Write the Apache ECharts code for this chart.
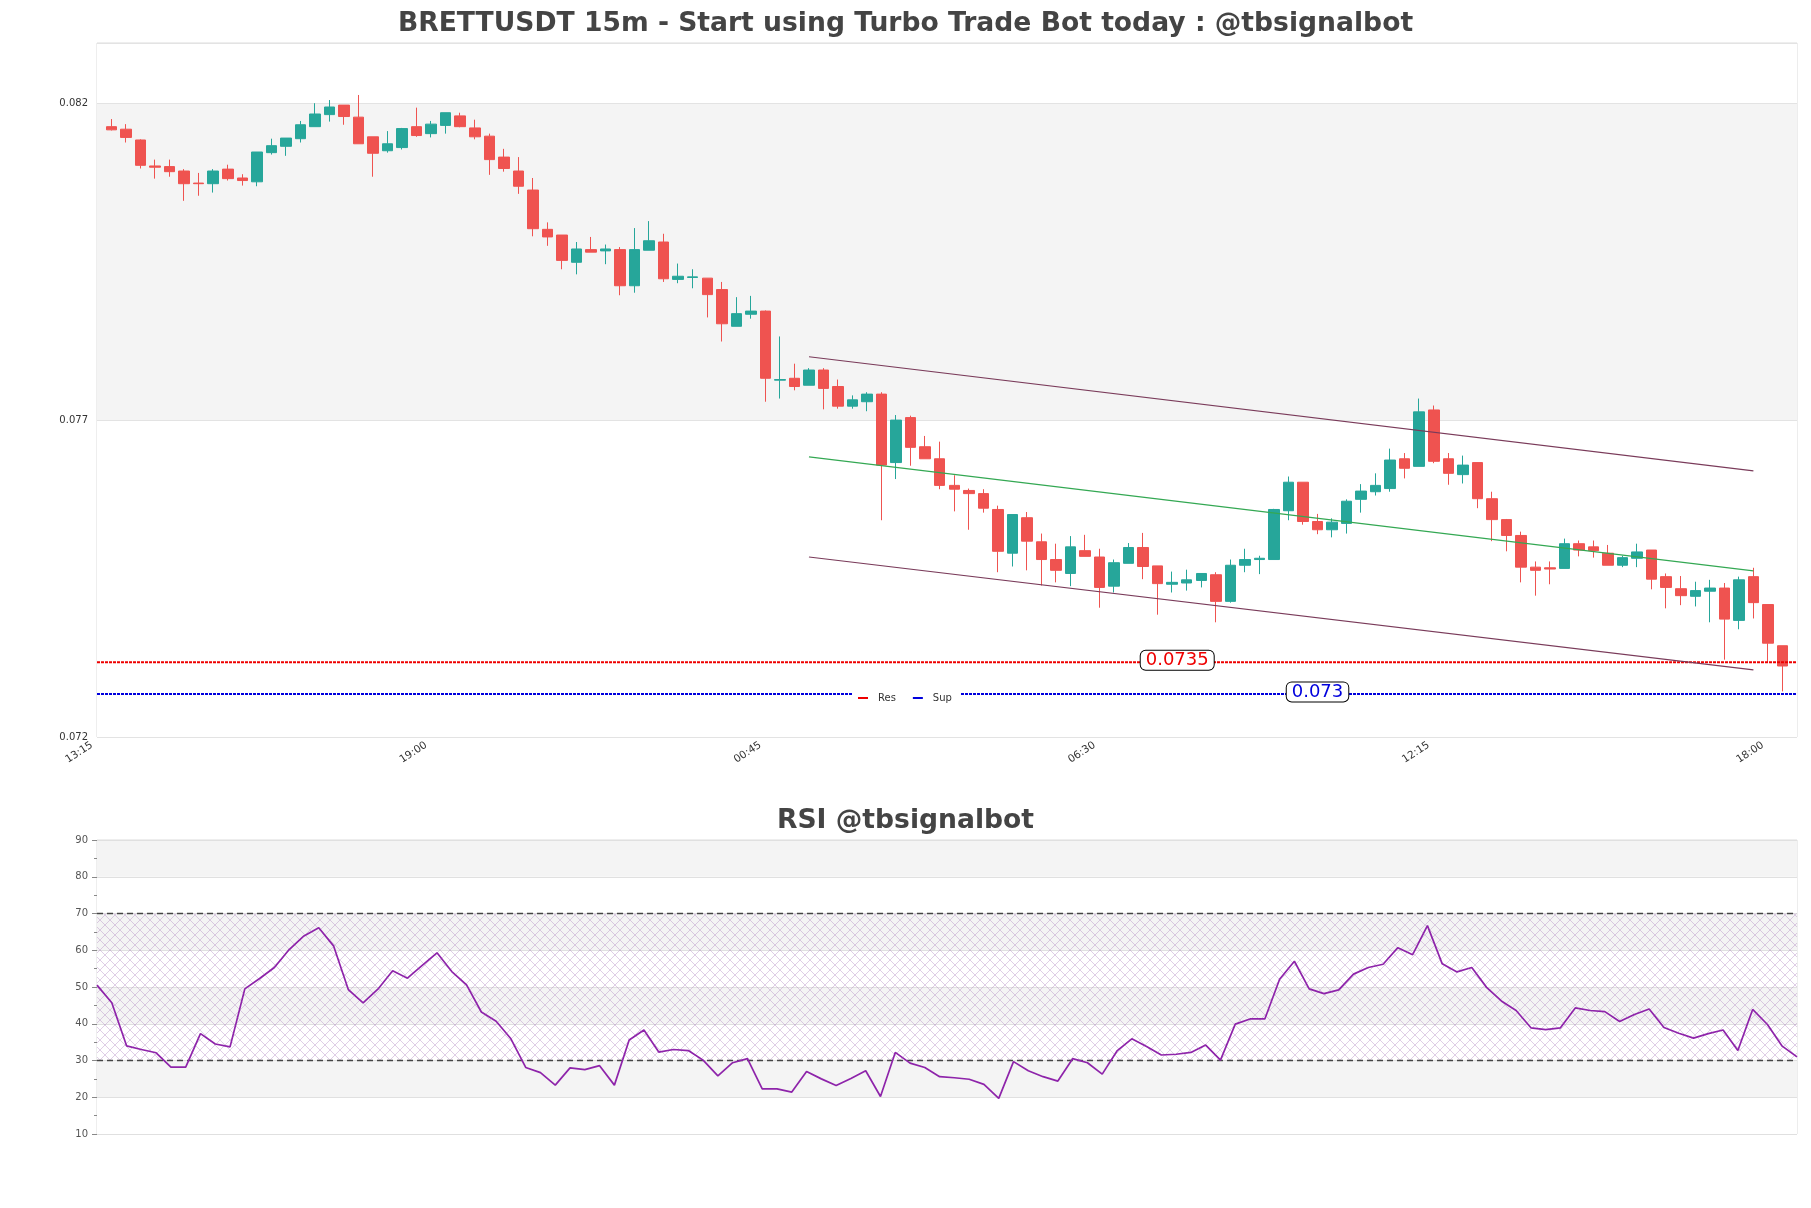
<!DOCTYPE html>
<html><head><meta charset="utf-8">
<script src="https://cdn.jsdelivr.net/npm/echarts@6/dist/echarts.min.js"></script>
<style>html,body{margin:0;padding:0;background:#fff}#chart{width:1811px;height:1208px}</style>
</head><body><div id="chart"></div>
<script>
// ---------- data ----------
const startTime = '13:15';          // first slot on the time axis (one empty slot before first candle)
const slotCount = 118;              // 116 candles + one empty slot each side
const xTickLabels = ['13:15', '19:00', '00:45', '06:30', '12:15', '18:00'];
const priceTicks = ['0.072', '0.077', '0.082'];

const opens = [0.08163,0.08159,0.08142,0.08101,0.08100,0.08093,0.08074,0.08073,0.08096,0.08082,
0.08076,0.08122,0.08132,0.08144,0.08163,0.08182,0.08197,0.08178,0.08147,0.08125,
0.08130,0.08163,0.08152,0.08165,0.08180,0.08161,0.08148,0.08115,0.08093,0.08063,
0.08001,0.07992,0.07949,0.07969,0.07967,0.07969,0.07912,0.07968,0.07981,0.07922,
0.07925,0.07924,0.07906,0.07848,0.07867,0.07872,0.07763,0.07766,0.07755,0.07779,
0.07753,0.07722,0.07729,0.07741,0.07633,0.07704,0.07658,0.07639,0.07597,0.07589,
0.07584,0.07559,0.07490,0.07546,0.07508,0.07480,0.07458,0.07494,0.07484,0.07438,
0.07474,0.07499,0.07470,0.07441,0.07443,0.07447,0.07456,0.07414,0.07471,0.07480,
0.07480,0.07557,0.07602,0.07540,0.07527,0.07537,0.07575,0.07587,0.07592,0.07639,
0.07627,0.07716,0.07639,0.07614,0.07633,0.07576,0.07543,0.07518,0.07468,0.07467,
0.07466,0.07505,0.07500,0.07490,0.07471,0.07482,0.07495,0.07453,0.07434,0.07422,
0.07430,0.07435,0.07384,0.07453,0.07409,0.07344];
const closes = [0.08158,0.08146,0.08102,0.08099,0.08092,0.08073,0.08073,0.08093,0.08081,0.08078,
0.08123,0.08133,0.08145,0.08166,0.08183,0.08194,0.08179,0.08136,0.08121,0.08136,
0.08160,0.08149,0.08167,0.08185,0.08163,0.08147,0.08111,0.08097,0.08069,0.08002,
0.07989,0.07952,0.07970,0.07965,0.07970,0.07912,0.07969,0.07983,0.07923,0.07927,
0.07926,0.07898,0.07852,0.07868,0.07872,0.07766,0.07764,0.07753,0.07779,0.07750,
0.07722,0.07732,0.07741,0.07629,0.07700,0.07657,0.07639,0.07597,0.07591,0.07584,
0.07561,0.07493,0.07551,0.07509,0.07480,0.07463,0.07500,0.07485,0.07436,0.07475,
0.07499,0.07469,0.07442,0.07444,0.07448,0.07458,0.07414,0.07471,0.07480,0.07482,
0.07559,0.07602,0.07540,0.07527,0.07539,0.07572,0.07588,0.07597,0.07637,0.07624,
0.07713,0.07635,0.07616,0.07629,0.07576,0.07543,0.07518,0.07468,0.07463,0.07465,
0.07505,0.07495,0.07494,0.07471,0.07483,0.07492,0.07449,0.07436,0.07423,0.07431,
0.07435,0.07386,0.07448,0.07412,0.07348,0.07312];
const lows = [0.08157,0.08138,0.08097,0.08081,0.08084,0.08046,0.08054,0.08059,0.08078,0.08070,
0.08069,0.08119,0.08117,0.08138,0.08163,0.08171,0.08166,0.08136,0.08084,0.08122,
0.08127,0.08147,0.08146,0.08152,0.08162,0.08143,0.08087,0.08092,0.08057,0.07990,
0.07975,0.07938,0.07930,0.07965,0.07946,0.07897,0.07901,0.07968,0.07918,0.07916,
0.07908,0.07862,0.07824,0.07848,0.07860,0.07729,0.07734,0.07747,0.07755,0.07717,
0.07718,0.07718,0.07714,0.07542,0.07607,0.07628,0.07639,0.07591,0.07556,0.07527,
0.07554,0.07460,0.07469,0.07463,0.07439,0.07444,0.07438,0.07485,0.07404,0.07428,
0.07474,0.07449,0.07393,0.07428,0.07431,0.07436,0.07381,0.07412,0.07460,0.07457,
0.07480,0.07542,0.07535,0.07520,0.07515,0.07521,0.07554,0.07581,0.07587,0.07608,
0.07627,0.07632,0.07598,0.07600,0.07561,0.07509,0.07493,0.07444,0.07423,0.07441,
0.07466,0.07485,0.07483,0.07471,0.07468,0.07468,0.07433,0.07403,0.07408,0.07406,
0.07381,0.07322,0.07370,0.07387,0.07318,0.07272];
const highs = [0.08175,0.08167,0.08143,0.08111,0.08111,0.08096,0.08090,0.08096,0.08103,0.08088,
0.08123,0.08144,0.08145,0.08172,0.08200,0.08205,0.08197,0.08213,0.08147,0.08156,
0.08161,0.08193,0.08172,0.08185,0.08185,0.08174,0.08152,0.08128,0.08115,0.08082,
0.08012,0.07992,0.07981,0.07989,0.07977,0.07973,0.08003,0.08014,0.07994,0.07947,
0.07938,0.07924,0.07918,0.07894,0.07896,0.07873,0.07832,0.07789,0.07782,0.07782,
0.07764,0.07739,0.07744,0.07744,0.07708,0.07707,0.07675,0.07666,0.07613,0.07592,
0.07591,0.07565,0.07551,0.07555,0.07521,0.07505,0.07517,0.07519,0.07497,0.07480,
0.07506,0.07522,0.07470,0.07461,0.07464,0.07458,0.07460,0.07480,0.07497,0.07486,
0.07560,0.07611,0.07602,0.07552,0.07545,0.07575,0.07599,0.07616,0.07655,0.07648,
0.07734,0.07723,0.07648,0.07644,0.07633,0.07587,0.07544,0.07524,0.07477,0.07477,
0.07513,0.07510,0.07510,0.07503,0.07486,0.07505,0.07495,0.07458,0.07454,0.07445,
0.07448,0.07443,0.07453,0.07467,0.07409,0.07344];

const rsiValues = [50.5,45.7,34.0,33.0,32.1,28.2,28.2,37.3,34.5,33.7,
49.5,52.3,55.3,60.2,63.9,66.1,61.2,49.3,45.7,49.4,
54.4,52.4,55.9,59.3,54.2,50.6,43.2,40.7,35.9,28.1,
26.7,23.3,28.0,27.5,28.6,23.3,35.6,38.3,32.3,33.0,
32.7,30.1,25.8,29.4,30.5,22.3,22.3,21.4,27.0,25.0,
23.2,25.1,27.2,20.2,32.2,29.3,28.1,25.6,25.3,24.9,
23.5,19.7,29.7,27.2,25.6,24.4,30.5,29.4,26.3,32.6,
35.9,33.8,31.5,31.7,32.2,34.2,30.1,39.9,41.3,41.3,
52.1,57.0,49.5,48.2,49.2,53.5,55.3,56.2,60.7,58.8,
66.7,56.3,54.1,55.3,49.9,46.2,43.6,38.9,38.4,38.9,
44.3,43.6,43.3,40.6,42.5,44.0,39.0,37.4,36.1,37.3,
38.3,32.7,43.9,39.8,33.9,31.0];

const resLevel = 0.07318, resLabel = '0.0735';
const supLevel = 0.07268, supLabel = '0.073';
const resLabelSlot = 74, supLabelSlot = 84;
const channelStart = 48, channelEnd = 113;   // candle indices
const channelUpper = [0.07800, 0.07620];
const channelMid   = [0.07642, 0.07462];
const channelLower = [0.07484, 0.07306];
const rsiUpper = 70, rsiLower = 30;

// ---------- build ----------
const FONT = 'DejaVu Sans';
const cats = [];
(function () {
  let [hh, mm] = startTime.split(':').map(Number);
  for (let i = 0; i < slotCount; i++) {
    cats.push(String(hh).padStart(2, '0') + ':' + String(mm).padStart(2, '0'));
    mm += 15; if (mm >= 60) { mm -= 60; hh = (hh + 1) % 24; }
  }
})();
const empty = ['-', '-', '-', '-'];
const candleData = [empty].concat(opens.map((o, i) => [o, closes[i], lows[i], highs[i]])).concat([empty]);
const rsiCats = cats.slice(1, 1 + rsiValues.length);

function chan(vals) { return [[channelStart + 1, vals[0]], [channelEnd + 1, vals[1]]]; }

const hc = document.createElement('canvas');
hc.width = 10; hc.height = 10;
const g = hc.getContext('2d');
g.strokeStyle = 'rgba(165,120,185,0.36)'; g.lineWidth = 1;
g.beginPath(); g.moveTo(0, 0); g.lineTo(10, 10); g.moveTo(10, 0); g.lineTo(0, 10); g.stroke();

const boxLabel = (txt, color) => ({
  show: true, position: 'inside', formatter: txt, fontSize: 18, lineHeight: 19,
  fontFamily: FONT, color: color, backgroundColor: '#fff', borderColor: '#000',
  borderWidth: 1, borderRadius: 5, padding: [0, 5]
});

const chart = echarts.init(document.getElementById('chart'));
chart.setOption({
  animation: false,
  backgroundColor: '#fff',
  title: [
    { text: 'BRETTUSDT 15m - Start using Turbo Trade Bot today : @tbsignalbot', left: 'center', top: 6,
      textStyle: { fontSize: 26.6, fontWeight: 'bold', color: '#444', fontFamily: FONT } },
    { text: 'RSI @tbsignalbot', left: 'center', top: 803,
      textStyle: { fontSize: 26.6, fontWeight: 'bold', color: '#444', fontFamily: FONT } }
  ],
  legend: {
    data: ['Res', 'Sup'], left: 853, top: 688, icon: 'rect', itemWidth: 10, itemHeight: 2,
    itemGap: 17, backgroundColor: '#fff', padding: [5, 9, 5, 5],
    textStyle: { fontSize: 10, color: '#333', fontFamily: FONT, padding: [0, 0, 0, 5] }
  },
  grid: [
    { left: 97, right: 14, top: 43, height: 694, show: true, borderColor: '#dcdcdc', borderWidth: 1 },
    { left: 97, right: 14, top: 840, height: 294, show: true, borderColor: '#dcdcdc', borderWidth: 1 }
  ],
  xAxis: [
    { type: 'category', gridIndex: 0, data: cats, boundaryGap: false,
      axisLine: { show: false }, axisTick: { show: false }, splitLine: { show: false },
      axisLabel: { interval: 22, rotate: 33, fontSize: 10.5, color: '#333', margin: 4, padding: [0, 6, 0, 0], fontFamily: FONT } },
    { type: 'category', gridIndex: 1, data: rsiCats, boundaryGap: false,
      axisLine: { show: false }, axisTick: { show: false }, axisLabel: { show: false }, splitLine: { show: false } }
  ],
  yAxis: [
    { type: 'value', gridIndex: 0, min: 0.072, max: 0.08295, interval: 0.005,
      axisLine: { show: false }, axisTick: { show: false },
      axisLabel: { margin: 9, fontSize: 10, color: '#333', fontFamily: FONT, showMaxLabel: false,
        formatter: v => priceTicks.find(t => Math.abs(parseFloat(t) - v) < 1e-7) || '' },
      splitLine: { show: true, lineStyle: { color: '#e3e3e3' } },
      splitArea: { show: true, areaStyle: { color: ['#ffffff', '#f4f4f4'] } } },
    { type: 'value', gridIndex: 1, min: 10, max: 90, interval: 10,
      axisLine: { show: false },
      axisTick: { show: true, length: 5, lineStyle: { color: '#888' } },
      minorTick: { show: true, splitNumber: 2, length: 3, lineStyle: { color: '#888' } },
      axisLabel: { margin: 9, fontSize: 10, color: '#555', fontFamily: FONT },
      splitLine: { show: true, lineStyle: { color: '#e0e0e0' } },
      splitArea: { show: true, areaStyle: { color: ['#ffffff', '#f4f4f4'] } } }
  ],
  series: [
    { type: 'candlestick', name: 'price', xAxisIndex: 0, yAxisIndex: 0, data: candleData, barWidth: 11,
      itemStyle: { color: '#26a69a', color0: '#ef5350', borderColor: '#26a69a', borderColor0: '#ef5350', borderWidth: 1 } },
    { type: 'line', name: 'Res', xAxisIndex: 0, yAxisIndex: 0, data: cats.map(() => resLevel), symbol: 'none',
      color: '#ee0000', lineStyle: { color: '#ee0000', width: 2, type: [3, 1] }, z: 3,
      markPoint: { symbol: 'rect', symbolSize: 1, itemStyle: { color: 'transparent' },
        data: [{ coord: [resLabelSlot, resLevel], label: Object.assign(boxLabel(resLabel, '#ee0000'), { offset: [5, -2] }) }] } },
    { type: 'line', name: 'Sup', xAxisIndex: 0, yAxisIndex: 0, data: cats.map(() => supLevel), symbol: 'none',
      color: '#0000dd', lineStyle: { color: '#0000dd', width: 2, type: [3, 1] }, z: 3,
      markPoint: { symbol: 'rect', symbolSize: 1, itemStyle: { color: 'transparent' },
        data: [{ coord: [supLabelSlot, supLevel], label: Object.assign(boxLabel(supLabel, '#0000dd'), { offset: [0, -2] }) }] } },
    { type: 'line', name: 'chanUpper', xAxisIndex: 0, yAxisIndex: 0, data: chan(channelUpper), symbol: 'none',
      lineStyle: { color: '#7a3b5a', width: 1.2 }, z: 4 },
    { type: 'line', name: 'chanMid', xAxisIndex: 0, yAxisIndex: 0, data: chan(channelMid), symbol: 'none',
      lineStyle: { color: '#34a853', width: 1.2 }, z: 4 },
    { type: 'line', name: 'chanLower', xAxisIndex: 0, yAxisIndex: 0, data: chan(channelLower), symbol: 'none',
      lineStyle: { color: '#7a3b5a', width: 1.2 }, z: 4 },
    { type: 'line', name: 'RSI', xAxisIndex: 1, yAxisIndex: 1, data: rsiValues, symbol: 'none',
      lineStyle: { color: '#8e24aa', width: 1.7 }, z: 5,
      markLine: { silent: true, symbol: 'none', label: { show: false },
        lineStyle: { color: '#444', type: [6, 4], width: 1.3 },
        data: [{ yAxis: rsiUpper }, { yAxis: rsiLower }] },
      markArea: { silent: true,
        data: [[{ yAxis: rsiLower, itemStyle: { color: { image: hc, repeat: 'repeat' } } }, { yAxis: rsiUpper }]] } }
  ]
});
</script></body></html>
